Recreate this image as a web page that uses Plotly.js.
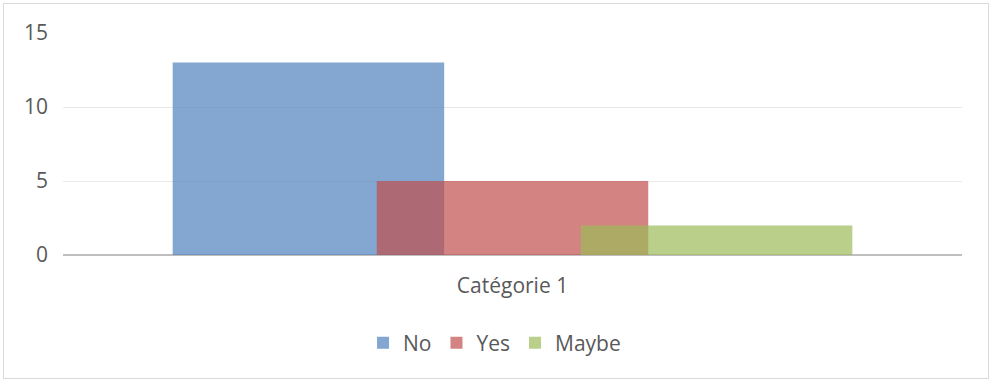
<!DOCTYPE html>
<html>
<head>
<meta charset="utf-8">
<script src="https://cdn.plot.ly/plotly-3.0.1.min.js"></script>
<style>
html,body{margin:0;padding:0;background:#fff;}
#wrap{position:relative;width:990px;height:381px;}
#chart{width:990px;height:381px;}
#frame{position:absolute;left:3px;top:3px;width:984px;height:374px;border:1px solid #d9d9d9;pointer-events:none;}
</style>
</head>
<body>
<div id="wrap"><div id="chart"></div><div id="frame"></div></div>
<script>
const categories = ["Catégorie 1"];
const seriesNames = ["No", "Yes", "Maybe"];
const noValues = [13];
const yesValues = [5];
const maybeValues = [2];
const yTicks = [0, 5, 10, 15];

const colors = ["rgba(79,129,189,0.7)", "rgba(192,80,77,0.7)", "rgba(155,187,89,0.7)"];
const offsets = [-0.378, -0.151, 0.076];
const barWidth = 0.302;
const seriesValues = [noValues, yesValues, maybeValues];

const traces = seriesNames.map((name, i) => ({
  type: "bar",
  name: name,
  x: categories,
  y: seriesValues[i],
  offset: offsets[i],
  width: barWidth,
  marker: {color: colors[i], line: {width: 0}},
  hoverinfo: "none"
}));

const font = {family: "Open Sans, Noto Sans, sans-serif", size: 21, color: "#595959"};

const layout = {
  width: 990, height: 381,
  margin: {l: 63, r: 28, t: 33, b: 126},
  paper_bgcolor: "#fff", plot_bgcolor: "#fff",
  barmode: "overlay",
  showlegend: true,
  font: font,
  legend: {orientation: "h", x: 0.48, xanchor: "center", y: -0.305, yanchor: "top",
           font: font, itemwidth: 30, tracegroupgap: 0},
  xaxis: {type: "category", range: [-0.5, 0.5], showgrid: false, zeroline: false,
          showline: false, ticks: "", tickfont: font, ticklabelstandoff: 16},
  yaxis: {range: [0, 15], tickvals: yTicks, ticktext: yTicks.map(String),
          showgrid: true, gridcolor: "#e9e9e9", gridwidth: 1, zeroline: true,
          zerolinecolor: "#bfbfbf", zerolinewidth: 2, showline: false, ticks: "",
          tickfont: font, ticklabelstandoff: 14}
};

Plotly.newPlot("chart", traces, layout, {displayModeBar: false, staticPlot: true});
</script>
</body>
</html>
